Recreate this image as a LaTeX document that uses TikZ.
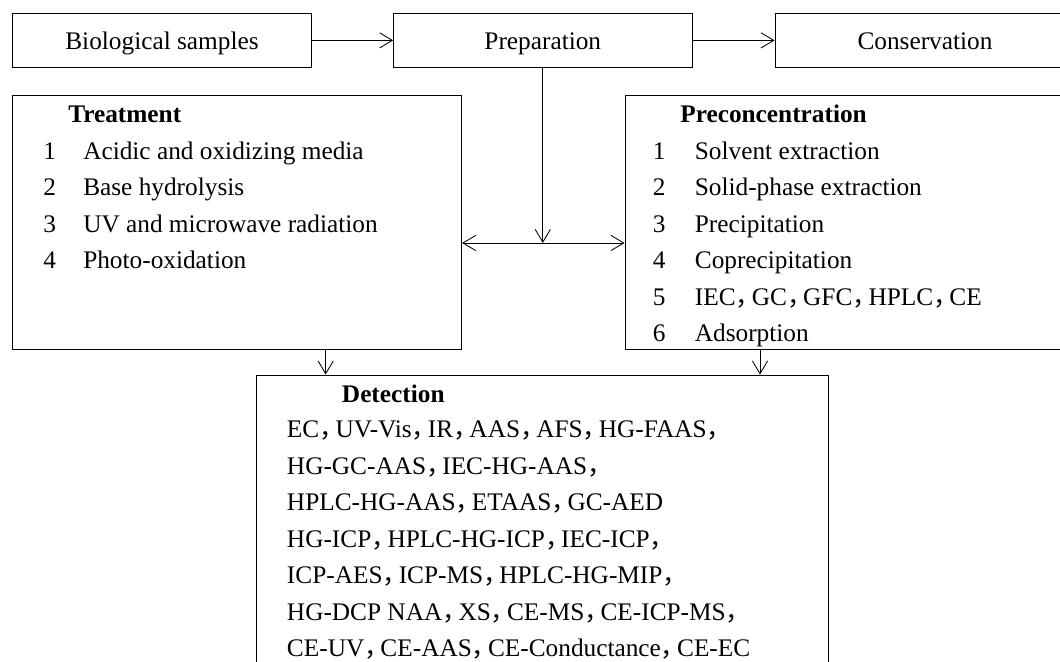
\documentclass[tikz,border=0pt]{standalone}
\usepackage{fontspec}
\setmainfont{Liberation Serif}
\newfontfamily\cjk{Noto Sans CJK SC}
\newcommand{\zc}{\makebox[0.64em][l]{\cjk ，}}
\usetikzlibrary{arrows.meta,positioning,calc}

\begin{document}
\begin{tikzpicture}[
  box/.style={draw=black, line width=0.6pt, inner sep=0, font=\fontsize{18}{26}\selectfont, text height=0.5cm, text depth=0.02cm},
  lbl/.style={inner sep=0, anchor=base west, font=\fontsize{18}{26}\selectfont},
  hd/.style={inner sep=0, anchor=base west, font=\fontsize{18}{26}\selectfont\bfseries},
  arr/.style={draw=black, line width=0.6pt, -{Straight Barb[length=3.2mm,width=3.8mm]}}
]
  \useasboundingbox (0,0) rectangle (26.5,16.55);
  \clip (0,0) rectangle (26.5,16.55);

  % top row
  \node[box, minimum width=7.49cm, minimum height=1.37cm] (bio) at (4.05,15.54) {Biological samples};
  \node[box, minimum width=7.46cm, minimum height=1.37cm] (prep) at (13.57,15.54) {Preparation};
  \node[box, minimum width=7.5cm, minimum height=1.37cm] (cons) at (23.125,15.54) {Conservation};

  % middle boxes
  \node[box, minimum width=11.235cm, minimum height=6.35cm] (treat) at (5.925,11.0) {};
  \node[box, minimum width=11.375cm, minimum height=6.35cm] (precon) at (21.3125,11.0) {};

  \node[hd] (treath) at (1.7,13.475) {Treatment};
  \node[lbl] (treat1) at (1.075,12.5625) {\makebox[1cm][l]{1}Acidic and oxidizing media};
  \node[lbl] (treat2) at (1.075,11.65) {\makebox[1cm][l]{2}Base hydrolysis};
  \node[lbl] (treat3) at (1.075,10.7375) {\makebox[1cm][l]{3}UV and microwave radiation};
  \node[lbl] (treat4) at (1.075,9.825) {\makebox[1cm][l]{4}Photo-oxidation};

  \node[hd] (preconh) at (17.0,13.475) {Preconcentration};
  \node[lbl] (precon1) at (16.315,12.5625) {\makebox[1.05cm][l]{1}Solvent extraction};
  \node[lbl] (precon2) at (16.315,11.65) {\makebox[1.05cm][l]{2}Solid-phase extraction};
  \node[lbl] (precon3) at (16.315,10.7375) {\makebox[1.05cm][l]{3}Precipitation};
  \node[lbl] (precon4) at (16.315,9.825) {\makebox[1.05cm][l]{4}Coprecipitation};
  \node[lbl] (precon5) at (16.315,8.9125) {\makebox[1.05cm][l]{5}IEC\zc GC\zc GFC\zc HPLC\zc CE};
  \node[lbl] (precon6) at (16.315,8.0) {\makebox[1.05cm][l]{6}Adsorption};

  % detection
  \node[box, minimum width=14.28cm, minimum height=8.175cm] (det) at (13.559,3.0875) {};
  \node[hd] (deth) at (8.5425,6.475) {Detection};
  \node[lbl] (det1) at (7.1675,5.6) {EC\zc UV-Vis\zc IR\zc AAS\zc AFS\zc HG-FAAS\zc};
  \node[lbl] (det2) at (7.1675,4.6875) {HG-GC-AAS\zc IEC-HG-AAS\zc};
  \node[lbl] (det3) at (7.1675,3.775) {HPLC-HG-AAS\zc ETAAS\zc GC-AED};
  \node[lbl] (det4) at (7.1675,2.8625) {HG-ICP\zc HPLC-HG-ICP\zc IEC-ICP\zc};
  \node[lbl] (det5) at (7.1675,1.95) {ICP-AES\zc ICP-MS\zc HPLC-HG-MIP\zc};
  \node[lbl] (det6) at (7.1675,1.0375) {HG-DCP NAA\zc XS\zc CE-MS\zc CE-ICP-MS\zc};
  \node[lbl] (det7) at (7.1675,0.125) {CE-UV\zc CE-AAS\zc CE-Conductance\zc CE-EC};

  % connectors
  \coordinate (jn) at (13.57,10.475);
  \draw[arr] (bio) -- (prep);
  \draw[arr] (prep) -- (cons);
  \draw[arr] (prep) -- (jn);
  \draw[arr] (jn) -- (treat.east |- jn);
  \draw[arr] (jn) -- (precon.west |- jn);
  \draw[arr] ([xshift=2.2175cm]treat.south) -- ([xshift=2.2175cm]treat.south |- det.north);
  \draw[arr] ([xshift=-2.3125cm]precon.south) -- ([xshift=-2.3125cm]precon.south |- det.north);
\end{tikzpicture}
\end{document}
